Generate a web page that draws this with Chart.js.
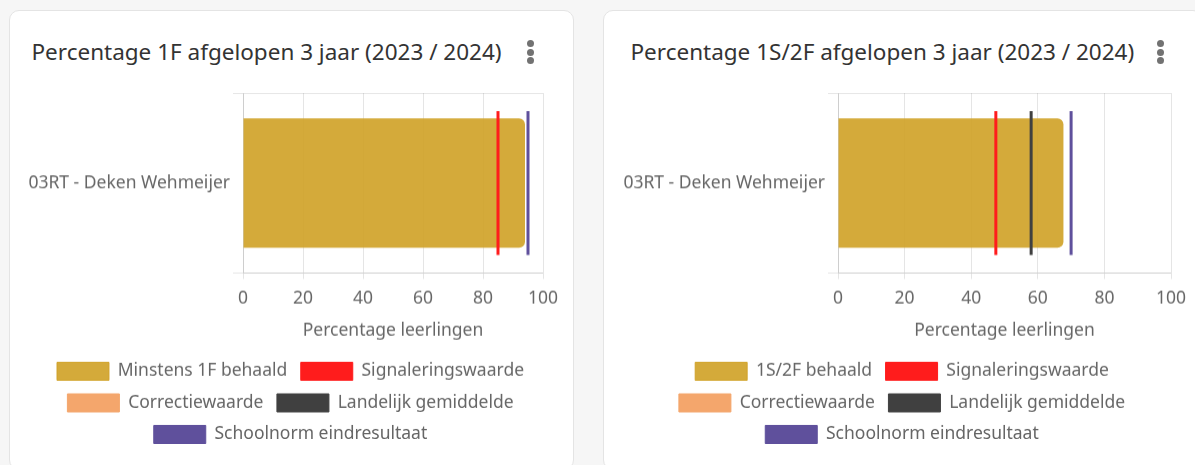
<!DOCTYPE html>
<html>
<head>
<meta charset="utf-8">
<script src="https://cdn.jsdelivr.net/npm/chart.js@4.4.1/dist/chart.umd.min.js"></script>
<style>
  html, body { margin: 0; padding: 0; }
  body { width: 1195px; height: 465px; overflow: hidden; background: #f6f6f6; font-family: "Noto Sans", sans-serif; position: relative; }
  .card { position: absolute; top: 10px; height: 460px; background: #fff; border: 1px solid #e4e4e4; border-radius: 10px; box-sizing: border-box; }
  .card h2 { position: absolute; margin: 0; font-weight: 400; font-size: 22.5px; line-height: 30px; color: #333; top: 26px; white-space: nowrap; }
  .kebab { position: absolute; top: 29px; width: 7px; }
  .kebab span { display: block; width: 7px; height: 7px; border-radius: 50%; background: #727272; margin-bottom: 1.5px; }
  .chartbox { position: absolute; top: 64px; height: 377.5px; }
</style>
</head>
<body>
<div class="card" style="left:9px;width:565px;">
  <h2 style="left:21.5px;">Percentage 1F afgelopen 3 jaar (2023 / 2024)</h2>
  <div class="kebab" style="left:517px;"><span></span><span></span><span></span></div>
  <div class="chartbox" style="left:10px;width:541px;"><canvas id="chart1F"></canvas></div>
</div>
<div class="card" style="left:603px;width:600px;">
  <h2 style="left:26.5px;">Percentage 1S/2F afgelopen 3 jaar (2023 / 2024)</h2>
  <div class="kebab" style="left:553px;"><span></span><span></span><span></span></div>
  <div class="chartbox" style="left:11px;width:574px;"><canvas id="chart2F"></canvas></div>
</div>
<script>
// school on the category axis
const schools = ['03RT - Deken Wehmeijer'];

// 1F
const behaald1F = [94];
const signalering1F = 85;
const correctie1F = null;
const landelijk1F = null;
const schoolnorm1F = 95;

// 1S/2F
const behaald2F = [67.7];
const signalering2F = 47.4;
const correctie2F = null;
const landelijk2F = 58;
const schoolnorm2F = 70;

const refNames = ['Signaleringswaarde', 'Correctiewaarde', 'Landelijk gemiddelde', 'Schoolnorm eindresultaat'];
const refColors = ['rgb(255,28,28)', 'rgb(244,166,108)', 'rgb(64,64,64)', 'rgb(95,80,156)'];

const textColor = '#666';
const fontFamily = '"Noto Sans", sans-serif';
const fontSize = 17.5;

function refLine(name, color, value) {
  // vertical marker drawn on a hidden 0..1 axis spanning the category band
  return {
    type: 'line',
    label: name,
    data: value === null ? [] : [{ x: value, y: 0.1 }, { x: value, y: 0.9 }],
    xAxisID: 'x',
    yAxisID: 'yRef',
    borderColor: color,
    backgroundColor: color,
    borderWidth: 3,
    pointRadius: 0,
    fill: false,
    order: 1,
  };
}

function makeChart(id, barLabel, barValues, refs) {
  const datasets = [
    {
      type: 'bar',
      label: barLabel,
      data: barValues,
      indexAxis: 'y',
      xAxisID: 'x',
      yAxisID: 'y',
      backgroundColor: 'rgba(207,161,37,0.9)',
      borderWidth: 0,
      borderRadius: 6,
      borderSkipped: 'start',
      order: 2,
    },
  ];
  refs.forEach((v, i) => datasets.push(refLine(refNames[i], refColors[i], v)));

  return new Chart(document.getElementById(id), {
    type: 'bar',
    data: { labels: schools, datasets: datasets },
    options: {
      responsive: true,
      maintainAspectRatio: false,
      animation: false,
      layout: { padding: { top: 18 } },
      scales: {
        x: {
          type: 'linear',
          position: 'bottom',
          offset: false,
          min: 0,
          max: 100,
          ticks: { stepSize: 20, color: textColor, font: { family: fontFamily, size: fontSize }, padding: 9.5 },
          grid: { color: 'rgba(0,0,0,0.1)', tickLength: 6, offset: false },
          border: { color: 'rgba(0,0,0,0.1)' },
          title: {
            display: true,
            text: 'Percentage leerlingen',
            color: textColor,
            font: { family: fontFamily, size: fontSize },
            padding: { top: 1, bottom: 7.5 },
          },
          // keep the plot clear of the card edge without narrowing the legend
          afterFit: (axis) => { axis.paddingRight = 18; },
        },
        y: {
          type: 'category',
          position: 'left',
          offset: true,
          ticks: { color: textColor, font: { family: fontFamily, size: fontSize }, padding: 3 },
          grid: { color: 'rgba(0,0,0,0.1)', tickLength: 10, offset: true },
          border: { color: 'rgba(0,0,0,0.1)' },
          afterFit: (axis) => { axis.width = 223; },
        },
        yRef: { type: 'linear', axis: 'y', display: false, min: 0, max: 1 },
      },
      plugins: {
        tooltip: { enabled: false },
        legend: {
          position: 'bottom',
          labels: {
            color: textColor,
            font: { family: fontFamily, size: fontSize },
            boxWidth: 52,
            boxHeight: 18,
            padding: 13.5,
            sort: (a, b) => a.datasetIndex - b.datasetIndex,
            generateLabels: (chart) => {
              const items = Chart.defaults.plugins.legend.labels.generateLabels(chart);
              items.forEach((it) => { it.lineWidth = 1; it.strokeStyle = it.fillStyle; });
              return items;
            },
          },
        },
      },
    },
  });
}

makeChart('chart1F', 'Minstens 1F behaald', behaald1F, [signalering1F, correctie1F, landelijk1F, schoolnorm1F]);
makeChart('chart2F', '1S/2F behaald', behaald2F, [signalering2F, correctie2F, landelijk2F, schoolnorm2F]);
</script>
</body>
</html>
